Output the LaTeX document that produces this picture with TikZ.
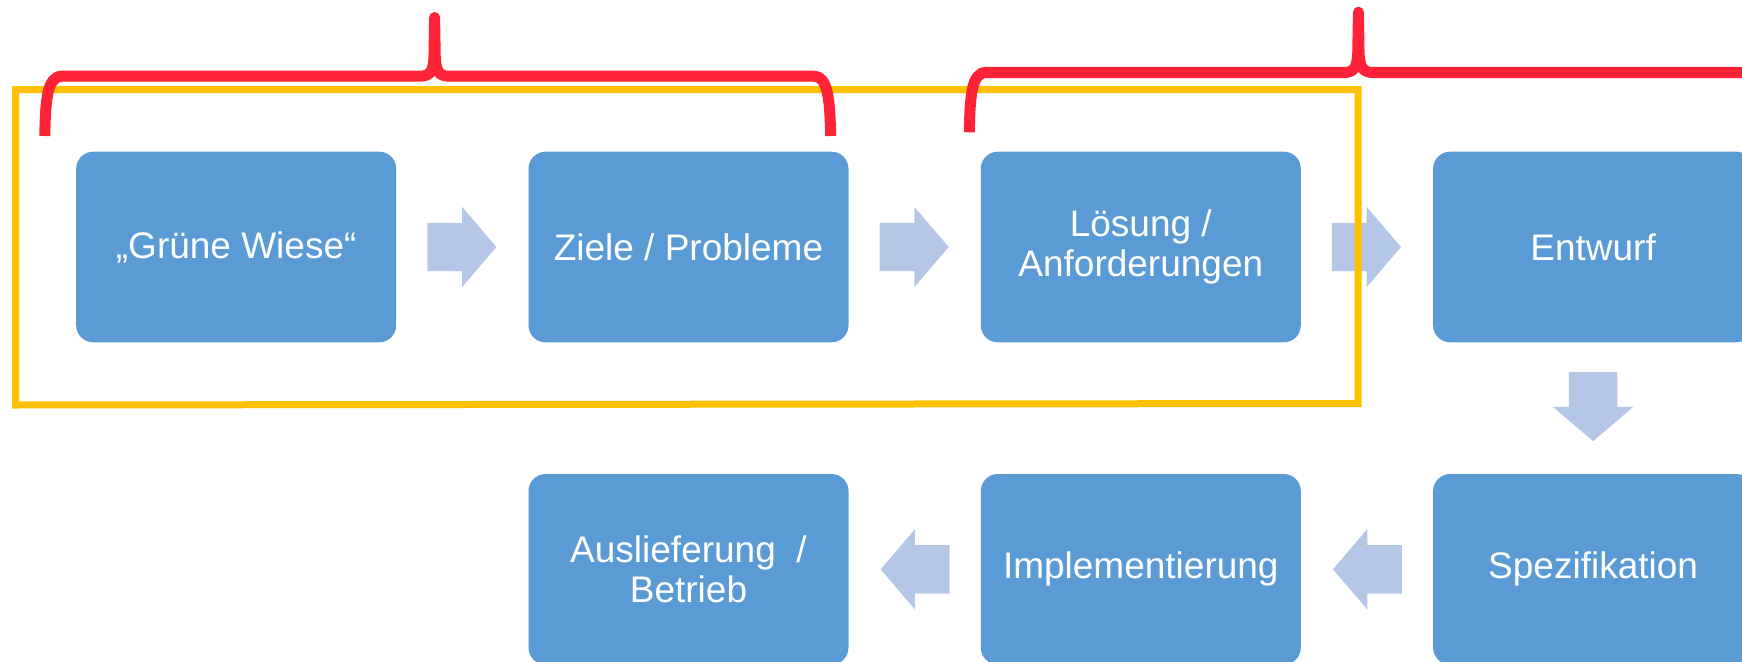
\documentclass[tikz,border=0pt]{standalone}
\usepackage{fontspec}
\setmainfont{Liberation Sans}
\usetikzlibrary{calc,shapes.arrows}

\definecolor{stepblue}{HTML}{5B9BD5}
\definecolor{flowfill}{HTML}{B4C7E7}
\definecolor{bracered}{HTML}{FF2337}
\definecolor{framegold}{HTML}{FFC000}

\tikzset{
  stepbox/.style={rectangle, rounded corners=17pt, fill=stepblue, text=white,
    minimum width=320pt, minimum height=190.6pt, inner sep=0pt, align=center,
    font=\fontsize{37}{40}\selectfont},
  flowarrow/.style={single arrow, fill=flowfill, draw=none, inner sep=0pt,
    outer sep=0pt, text height=24pt, text depth=24pt, minimum height=69pt,
    single arrow head extend=16pt, single arrow tip angle=99, anchor=tail},
  phasebrace/.style={draw=bracered, line width=11pt, line cap=butt, line join=round},
  scopeframe/.style={draw=framegold, line width=7pt}
}

\begin{document}
\begin{tikzpicture}[x=1pt, y=-1pt]
\useasboundingbox (0,0) rectangle (1742,661);
\fill[white] (0,0) rectangle (1742,661);
\clip (0,0) rectangle (1742,661);

% process steps
\node[stepbox] (gw) at (236.2,247) {„Grüne Wiese“};
\node[stepbox] (zp) at (688.5,247) {Ziele / Probleme};
\node[stepbox] (la) at (1140.8,247) {Lösung /\\Anforderungen};
\node[stepbox] (ew) at (1593.1,247) {Entwurf};
\node[stepbox] (sp) at (1593.1,569.3) {Spezifikation};
\node[stepbox] (im) at (1140.8,569.3) {Implementierung};
\node[stepbox] (ab) at (688.5,569.3) {Auslieferung~~/\\Betrieb};

% block arrows between the steps, placed by their tails
\node[flowarrow] (a1) at ($(gw.east)!0.5!(zp.west)+(-35,0)$) {};
\node[flowarrow] (a2) at ($(zp.east)!0.5!(la.west)+(-35,0)$) {};
\node[flowarrow] (a3) at ($(la.east)!0.5!(ew.west)+(-35,0)$) {};
\node[flowarrow, rotate=-90] (a4) at ($(ew.south)!0.5!(sp.north)+(0,-36)$) {};
\node[flowarrow, rotate=180] (a5) at ($(sp.west)!0.5!(im.east)+(35,0)$) {};
\node[flowarrow, rotate=180] (a6) at ($(im.west)!0.5!(ab.east)+(35,0)$) {};

% frame around the first three steps
\draw[scopeframe] (15.5,89.5) -- (1358,89.5) -- (1358,403.5) -- (15.5,405) -- cycle;

% braces over the phases
\draw[phasebrace] (44.8,136) .. controls (45.5,100) and (47,76.2) .. (62,76.2)
  -- (420,76.2) .. controls (431,76.2) and (433.6,70) .. (434,55)
  -- (434.6,17.5) -- (435.2,55) .. controls (435.6,70) and (438,76.2) .. (449,76.2)
  -- (814,76.2) .. controls (828,76.2) and (829.8,100) .. (830.7,136);
\draw[phasebrace] (969.3,132.3) .. controls (970,96) and (971.5,72.5) .. (986,72.5)
  -- (1344,72.5) .. controls (1355,72.5) and (1357.4,66) .. (1357.8,51)
  -- (1358.4,12.2) -- (1359,51) .. controls (1359.4,66) and (1362,72.5) .. (1373,72.5)
  -- (1760,72.5);
\end{tikzpicture}
\end{document}
